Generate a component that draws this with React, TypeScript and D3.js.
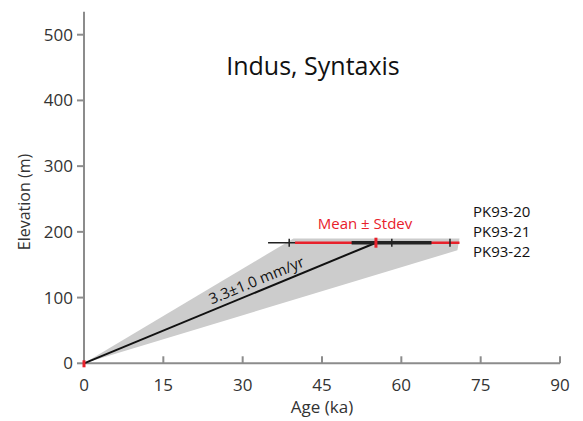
import React from "react";
import * as d3 from "d3";

const xTicks = [0, 15, 30, 45, 60, 75, 90];
const yTicks = [0, 100, 200, 300, 400, 500];
const sampleLabels = ["PK93-20", "PK93-21", "PK93-22"];
const elevation = 183.5;
const sampleAges = [38.8, 58.2, 69.2];
const thinRange = [34.8, 70.5];
const stdevRange = [39.9, 71];
const thickRange = [50.6, 65.7];
const meanAge = 55.2;
const envelope: [number, number][] = [[0, 0], [39.6, 190], [71, 190], [70.6, 172]];

export default function App() {
  const W = 583, H = 421;
  const x = d3.scaleLinear().domain([0, 90]).range([84, 560]);
  const y = d3.scaleLinear().domain([0, 500]).range([363.3, 34.7]);
  const axisColor = "#8c8c8c";
  const font = "'Open Sans', sans-serif";
  const yTop = y(535);
  const ey = y(elevation);
  const poly = d3.line<[number, number]>().x(d => x(d[0])).y(d => y(d[1]))([...envelope, envelope[0]]);
  const angle = (Math.atan2(y(0) - ey, x(meanAge) - x(0)) * 180) / Math.PI;
  const midA = 33;
  const mx = x(midA), my = y((elevation / meanAge) * midA);
  return (
    <svg width={W} height={H} style={{ position: "absolute", left: 0, top: 0 }} fontFamily={font}>
      <rect width={W} height={H} fill="#fff" />
      <path d={poly || ""} fill="#cccccc" stroke="none" />
      {/* axes */}
      <line x1={x(0)} x2={x(0)} y1={yTop} y2={y(0)} stroke={axisColor} strokeWidth={2} />
      <line x1={x(0)} x2={x(90)} y1={y(0)} y2={y(0)} stroke={axisColor} strokeWidth={2} />
      {yTicks.map(t => (
        <g key={"y" + t}>
          <line x1={x(0) - 7} x2={x(0)} y1={y(t)} y2={y(t)} stroke={axisColor} strokeWidth={2} />
          <text x={x(0) - 11} y={y(t)} dy="0.35em" textAnchor="end" fontSize={17} fill="#333">{t}</text>
        </g>
      ))}
      {xTicks.map(t => (
        <g key={"x" + t}>
          <line x1={x(t)} x2={x(t)} y1={y(0)} y2={y(0) - 7} stroke={axisColor} strokeWidth={2} />
          <text x={x(t)} y={y(0) + 22} dy="0.35em" textAnchor="middle" fontSize={17} fill="#333">{t}</text>
        </g>
      ))}
      <text x={322} y={407} dy="0.35em" textAnchor="middle" fontSize={17} fill="#333">Age (ka)</text>
      <text transform={`translate(24,202) rotate(-90)`} textAnchor="middle" dy="0.35em" fontSize={16} fill="#333">Elevation (m)</text>
      <text x={313} y={66} dy="0.35em" textAnchor="middle" fontSize={25} fill="#111">Indus, Syntaxis</text>
      {/* rate line */}
      <line x1={x(0)} y1={y(0)} x2={x(meanAge)} y2={ey} stroke="#111" strokeWidth={2} />
      <text transform={`translate(${mx},${my - 6}) rotate(${-angle})`} textAnchor="middle" fontSize={15} fill="#111">3.3±1.0 mm/yr</text>
      {/* sample bars */}
      <line x1={x(thinRange[0])} x2={x(thinRange[1])} y1={ey} y2={ey} stroke="#222" strokeWidth={1.5} />
      <line x1={x(stdevRange[0])} x2={x(stdevRange[1])} y1={ey} y2={ey} stroke="#e8212b" strokeWidth={2.5} />
      <line x1={x(thickRange[0])} x2={x(thickRange[1])} y1={ey} y2={ey} stroke="#222" strokeWidth={3.5} />
      {sampleAges.map(a => (
        <line key={a} x1={x(a)} x2={x(a)} y1={ey - 4} y2={ey + 4} stroke="#222" strokeWidth={1.5} />
      ))}
      <line x1={x(meanAge)} x2={x(meanAge)} y1={ey - 5} y2={ey + 5} stroke="#e8212b" strokeWidth={3} />
      <line x1={x(0)} x2={x(0)} y1={y(0) - 3} y2={y(0) + 4} stroke="#e8212b" strokeWidth={3} />
      <text x={365} y={224} dy="0.35em" textAnchor="middle" fontSize={15} fill="#e8212b">Mean ±  Stdev</text>
      {sampleLabels.map((s, i) => (
        <text key={s} x={473} y={212 + i * 20} dy="0.35em" fontSize={15} fill="#111">{s}</text>
      ))}
    </svg>
  );
}
